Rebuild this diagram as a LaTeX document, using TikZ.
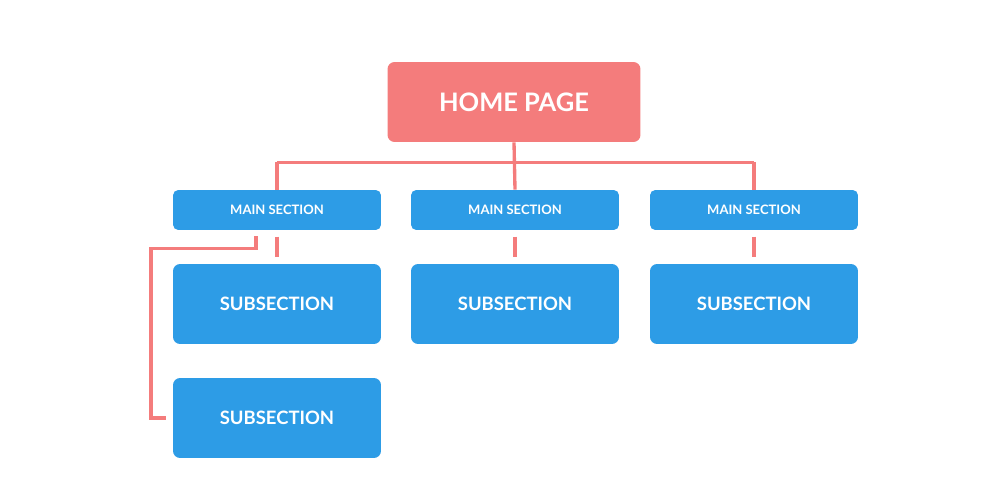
\documentclass[tikz,border=0pt]{standalone}
\usepackage{fontspec}
\setmainfont{Lato}
\definecolor{coral}{HTML}{F47C7C}
\definecolor{sky}{HTML}{2D9CE6}
\usetikzlibrary{positioning, calc}
\tikzset{
  homebox/.style={fill=coral, text=white, rounded corners=4pt, align=center,
              minimum width=5.06cm, minimum height=1.6cm, inner sep=0pt,
              font=\bfseries\fontsize{14.5}{16}\selectfont},
  mainbox/.style={fill=sky, text=white, rounded corners=3pt, align=center,
              minimum width=4.16cm, minimum height=0.8cm, inner sep=0pt,
              font=\bfseries\fontsize{7.4}{9}\selectfont},
  subbox/.style={fill=sky, text=white, rounded corners=4pt, align=center,
              minimum width=4.16cm, minimum height=1.6cm, inner sep=0pt,
              font=\bfseries\fontsize{10.5}{12}\selectfont},
  link/.style={draw=coral, line width=1.9pt},
}
\begin{document}
\begin{tikzpicture}[x=0.02cm,y=-0.02cm]
\useasboundingbox (0,0) rectangle (1000,500);
\node[homebox] (home) at (514,102) {HOME PAGE};
\node[mainbox] (ms1) at (277,210) {MAIN SECTION};
\node[mainbox] (ms2) at (515,210) {MAIN SECTION};
\node[mainbox] (ms3) at (754,210) {MAIN SECTION};
\node[subbox] (sub1) at (277,304) {SUBSECTION};
\node[subbox] (sub2) at (515,304) {SUBSECTION};
\node[subbox] (sub3) at (754,304) {SUBSECTION};
\node[subbox] (sub4) at (277,418) {SUBSECTION};
% home to main sections
\coordinate (bus) at ($(home.south)+(0,20)$);
\draw[link] (home.south) -- (ms2.north);
\draw[link] (bus -| ms1.north) -- (bus -| ms3.north);
\draw[link] (bus -| ms1.north) -- (ms1.north);
\draw[link] (bus -| ms3.north) -- (ms3.north);
% main sections to subsections
\foreach \i in {1,2,3}
  \draw[link, shorten <=6pt*0.6, shorten >=6pt*0.6] (ms\i.south) -- (sub\i.north);
\coordinate (turn) at ($(ms1.south)+(-21,18)$);
\draw[link] ($(ms1.south)+(-21,6)$) -- (turn) -- (turn -| 151,0) |- ($(sub4.west)+(-7,0)$);
\end{tikzpicture}
\end{document}
